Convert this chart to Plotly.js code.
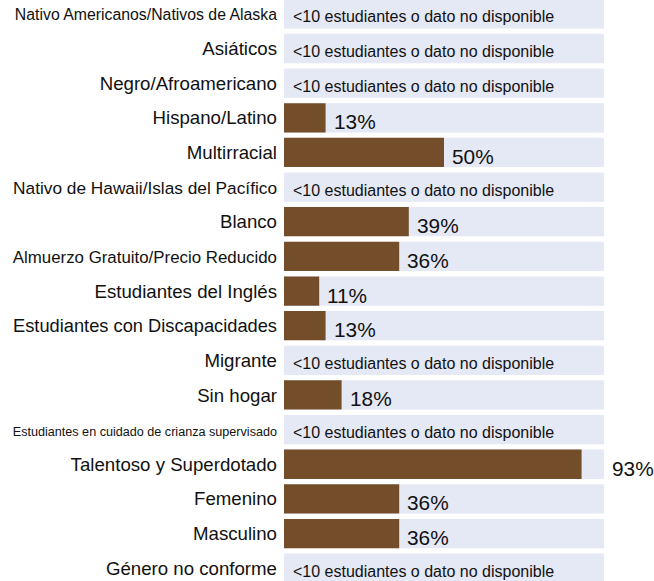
<!DOCTYPE html>
<html>
<head>
<meta charset="utf-8">
<script src="https://cdn.plot.ly/plotly-3.0.1.min.js"></script>
<style>html,body{margin:0;padding:0;background:#fff;}#chart{width:654px;height:581px;}</style>
</head>
<body>
<div id="chart"></div>
<script>
const categories = [
  "Nativo Americanos/Nativos de Alaska",
  "Asiáticos",
  "Negro/Afroamericano",
  "Hispano/Latino",
  "Multirracial",
  "Nativo de Hawaii/Islas del Pacífico",
  "Blanco",
  "Almuerzo Gratuito/Precio Reducido",
  "Estudiantes del Inglés",
  "Estudiantes con Discapacidades",
  "Migrante",
  "Sin hogar",
  "Estudiantes en cuidado de crianza supervisado",
  "Talentoso y Superdotado",
  "Femenino",
  "Masculino",
  "Género no conforme"
];
const values = [null, null, null, 13, 50, null, 39, 36, 11, 13, null, 18, null, 93, 36, 36, null];
const fullScale = categories.map(() => 100);
const missingText = "<10 estudiantes o dato no disponible";

const FONT = "Liberation Sans, Arial, sans-serif";
const BASE_SIZE = 18.67;
const MAX_LABEL_W = 264;

// shrink long labels to fit the available width
const cv = document.createElement("canvas").getContext("2d");
cv.font = BASE_SIZE + 'px "Liberation Sans", Arial';
const tickText = categories.map(c => {
  const w = cv.measureText(c).width;
  if (w <= MAX_LABEL_W) return c;
  const s = (BASE_SIZE * MAX_LABEL_W / w).toFixed(2);
  return '<span style="font-size:' + s + 'px">' + c + '</span>';
});

const annotations = categories.map((c, i) => {
  const v = values[i];
  if (v === null) {
    return {x: 0, y: c, xref: "x", yref: "y", text: missingText, showarrow: false,
      xanchor: "left", xshift: 7, yshift: -3, font: {size: 16, color: "#111", family: FONT}};
  }
  return {x: v > 85 ? 100 : v, y: c, xref: "x", yref: "y", text: v + "%", showarrow: false,
    xanchor: "left", xshift: 6, yshift: -4, font: {size: 20.8, color: "#111", family: FONT}};
});

const traces = [
  {type: "bar", orientation: "h", y: categories, x: fullScale, marker: {color: "#E5E8F5"},
   hoverinfo: "skip", showlegend: false},
  {type: "bar", orientation: "h", y: categories, x: values, marker: {color: "#744D2B"},
   hoverinfo: "x+y", showlegend: false}
];

const layout = {
  width: 654, height: 581,
  margin: {l: 284, r: 50, t: 0, b: 0, pad: 0},
  paper_bgcolor: "#fff", plot_bgcolor: "#fff",
  font: {family: FONT, color: "#111"},
  barmode: "overlay",
  bargap: 0.155,
  xaxis: {range: [0, 100], visible: false, fixedrange: true},
  yaxis: {type: "category", categoryorder: "array", categoryarray: categories,
    range: [16.37, -0.40], autorange: false, tickvals: categories, ticktext: tickText,
    tickfont: {size: BASE_SIZE, color: "#111", family: FONT},
    ticks: "", ticklabelstandoff: 6, showgrid: false, zeroline: false, showline: false,
    automargin: false, fixedrange: true},
  annotations: annotations
};

Plotly.newPlot("chart", traces, layout, {displayModeBar: false, staticPlot: true});
</script>
</body>
</html>
